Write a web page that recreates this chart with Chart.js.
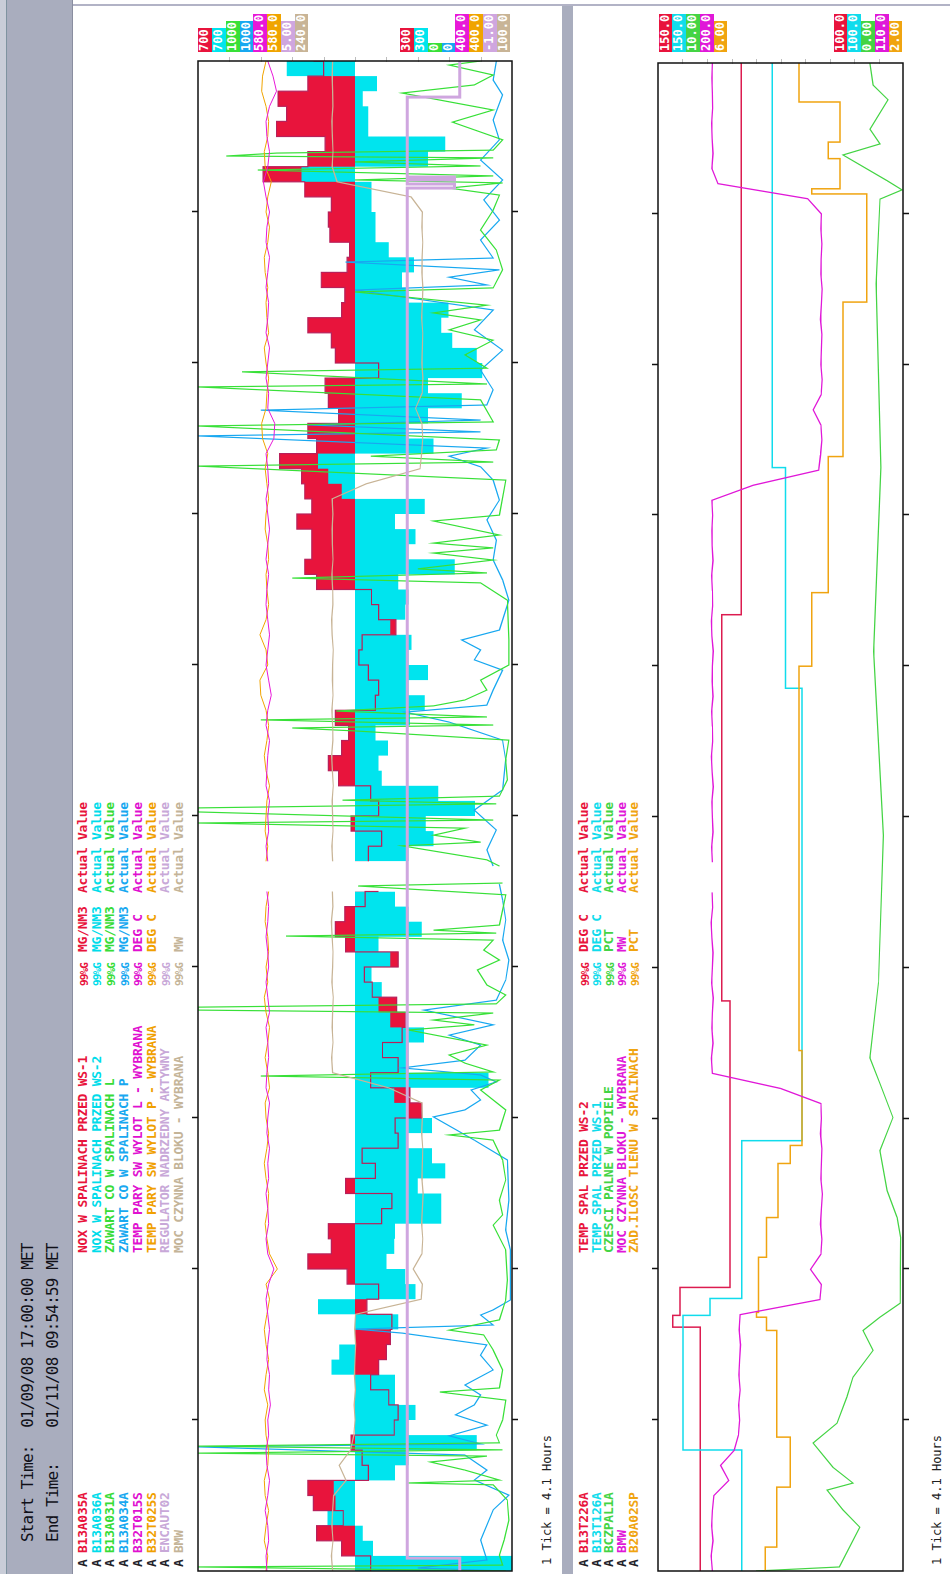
<!DOCTYPE html>
<html>
<head>
<meta charset="utf-8">
<script src="https://cdn.jsdelivr.net/npm/chart.js@4.4.1/dist/chart.umd.min.js"></script>
<style>
  html, body { margin: 0; padding: 0; background: #fff; width: 950px; height: 1574px; overflow: hidden; }
  #page {
    position: absolute; left: 0; top: 0; width: 1574px; height: 950px;
    transform-origin: 0 0; transform: translate(0px, 1574px) rotate(-90deg);
    background: #fff; font-family: 'DejaVu Sans Mono', monospace;
  }
  .blk { position: absolute; }
  .hdrText { position: absolute; font-size: 16px; line-height: 16px; letter-spacing: -0.85px; color: #101018; white-space: pre; }
  .leg { position: absolute; font-size: 13px; line-height: 13px; font-weight: bold; letter-spacing: -0.25px; white-space: pre; }
  .leg.narrow { font-size: 11px; letter-spacing: -0.9px; }
  .lim { position: absolute; height: 13.75px; font-size: 12px; line-height: 13.75px; font-weight: bold; color: #fff; padding: 0 1px; white-space: pre; }
  .tick { position: absolute; font-size: 12px; line-height: 12px; color: #202020; white-space: pre; }
  canvas { position: absolute; left: 0; display: block; }
</style>
</head>
<body>
<div id="page">
  <div class="blk" style="left:0;top:0;width:1574px;height:73px;background:#a9adbe"></div>
  <div class="blk" style="left:0;top:0;width:1574px;height:6px;background:#c9cdd8"></div>
  <div class="blk" style="left:0;top:6px;width:1574px;height:1px;background:#7f93a0"></div>
  <div class="blk" style="left:0;top:72px;width:1574px;height:1px;background:#8a8ea0"></div>
  <div class="blk" style="left:1568px;top:73px;width:2px;height:877px;background:#b2b3c6"></div>
  <div class="blk" style="left:0;top:562px;width:1568px;height:11px;background:#a9adbe"></div>
  <div id="startTime" class="hdrText" style="left:32px;top:19.5px"></div>
  <div id="endTime" class="hdrText" style="left:32px;top:44.5px"></div>
  <div id="topLegend"></div>
  <div id="botLegend"></div>
  <div id="topLimits"></div>
  <div id="botLimits"></div>
  <div class="tick" id="topTickNote" style="left:9px;top:541px"></div>
  <div class="tick" id="botTickNote" style="left:9px;top:931px"></div>
  <canvas id="topChart" width="1574" height="335" style="top:190px"></canvas>
  <canvas id="botChart" width="1574" height="265" style="top:650px"></canvas>
</div>
<script>
// ---- time window ----
const SPAN_HOURS = 41;
const TICK_HOURS = 4.1;
const START_TIME = '01/09/08 17:00:00 MET';
const END_TIME = '01/11/08 09:54:59 MET';

// ---- upper trend: pens ----
const topTags  = ['B13A035A', 'B13A036A', 'B13A031A', 'B13A034A', 'B32T015S', 'B32T025S', 'ENCAUT02', 'BMW'];
const topDescs = ['NOX W SPALINACH PRZED WS-1', 'NOX W SPALINACH PRZED WS-2', 'ZAWART CO W SPALINACH L', 'ZAWART CO W SPALINACH P',
                  'TEMP PARY SW WYLOT L - WYBRANA', 'TEMP PARY SW WYLOT P - WYBRANA', 'REGULATOR NADRZEDNY AKTYWNY', 'MOC CZYNNA BLOKU - WYBRANA'];
const topUnits = ['MG/NM3', 'MG/NM3', 'MG/NM3', 'MG/NM3', 'DEG C', 'DEG C', '', 'MW'];
const topMax = [700, 700, 1000, 1000, 580, 580, 5, 240];
const topMin = [300, 300, 0, 0, 400, 400, -1, 100];
const topMaxText = ['700', '700', '1000', '1000', '580.0', '580.0', '5.00', '240.0'];
const topMinText = ['300', '300', '0', '0', '400.0', '400.0', '-1.00', '100.0'];

// ---- lower trend: pens ----
const botTags  = ['B13T226A', 'B13T126A', 'BCZPAL1A', 'BMW', 'B20A02SP'];
const botDescs = ['TEMP SPAL PRZED WS-2', 'TEMP SPAL PRZED WS-1', 'CZESCI PALNE W POPIELE', 'MOC CZYNNA BLOKU - WYBRANA', 'ZAD.ILOSC TLENU W SPALINACH'];
const botUnits = ['DEG C', 'DEG C', 'PCT', 'MW', 'PCT'];
const botMax = [150, 150, 10, 200, 6];
const botMin = [100, 100, 0, 110, 2];
const botMaxText = ['150.0', '150.0', '10.00', '200.0', '6.00'];
const botMinText = ['100.0', '100.0', '0.00', '110.0', '2.00'];

// ---- samples every 0.41 h (101 points over the window), null = no data ----
const noxWs1 = [
  480,517,549,515,553,560,483,491,505,450,
  445,457,480,470,460,455,453,485,470,510,
  560,530,534,466,453,512,474,491,445,449,
  415,430,480,445,465,440,436,447,478,488,
  445,512,525,513,487,470,null,483,466,505,
  470,480,521,534,517,508,525,474,470,483,
  495,491,448,470,479,549,564,555,555,574,
  555,564,568,596,549,560,521,534,538,470,
  525,530,560,517,513,543,510,507,532,534,
  530,564,617,560,538,600,587,598,560,540,
  553];
const noxWs2 = [
  300,477,490,535,525,527,449,432,345,432,
  423,449,449,530,520,500,445,547,423,436,
  460,450,449,390,390,420,385,402,434,402,
  435,450,330,432,432,412,455,470,466,479,
  455,470,415,432,449,434,null,432,400,410,
  347,394,466,470,458,474,430,411,432,407,
  432,428,455,436,432,445,373,432,423,449,
  411,517,534,547,400,432,407,364,407,338,
  345,376,390,381,432,440,425,457,474,474,
  479,479,568,407,385,483,483,490,472,587,
  540];
const tempSteamL = [
  540.5,541,539.5,540,541.5,540,539,540.5,541,539.5,
  540,538.5,539.5,539,540.5,540,539,540,541,539.5,
  536.5,540,541,539.5,540,541,539.5,540,539,540.5,
  540,539,541,540.5,539.5,540,541,539,540,541,
  539.5,540,541,540,539.5,540.5,null,540,541,539.5,
  540,539,541,540.5,540,539,541,540,538,539.5,
  541,540,539,540,541,540.5,539.5,541,540,539,
  540,541,539.5,540,541,536.5,536,540,539.5,541,
  540,539,541,540,539.5,541,540,539,541,540.5,
  539,541,542.5,540,539,540.5,541,539,535,537,
  540];
const tempSteamP = [
  541,540,542,541,539.5,541.5,542,540,539.5,541,
  541.5,540,542,541,539.5,541,542,540.5,539,541,
  534.5,539,540.5,541.5,540,539.5,541,542,540.5,539.5,
  541,541.5,539,540,541.5,540,539,541,542,540,
  541,539.5,540,541.5,541,539.5,null,541,540,541.5,
  541,540.5,539,541,542,540.5,539.5,541,544,544.5,
  540,541,544.5,541,539.5,540.5,541,539.5,540,541.5,
  541,539.5,540.5,541.5,540,543,543.5,541,540.5,539.5,
  541,542,539.5,540.5,541,540,541.5,542,540,539,
  541,540,538,541.5,542,540,539.5,541,543.5,543,
  541];
const unitPowerMW = [
  180,180.5,179.8,180.3,180,179.5,174,177,172,170.5,
  170,170.4,169.8,170.3,170,169.7,170.2,169.8,140.5,140,
  144,140.2,139.8,140.3,140,139.6,140.2,140,139.8,140.3,
  140,140.2,155,180,180.4,179.8,180.2,180,179.7,180.3,
  180,179.8,180.2,180.5,179.9,180.1,null,180,180.3,179.8,
  180,180.2,179.7,180.1,180.4,179.9,180,180.3,179.8,180.1,
  180,179.7,180.2,180.4,179.9,180,180.3,179.8,180.1,180.2,
  179.9,180.2,165,141,140.3,139.8,140.2,143,140.1,139.7,
  140.2,140,139.8,140.3,140,139.7,140.2,140.1,139.8,140.2,
  140,145,178,180.2,179.8,180.1,180.3,179.9,180,180.2,
  180];

// ---- exception-recorded pens: [hours from start, value] ----
const coLeft = [[0,20],[0.11,1000],[0.16,30],[0.43,40],[0.84,25],[1.38,10],[1.93,15],[2.34,60],[2.39,330],[2.47,40],[2.74,150],[2.96,260],[3.12,80],[3.20,1000],[3.29,30],[3.39,1000],[3.48,40],[3.69,50],[4.10,30],[4.64,20],[4.86,230],[4.97,40],[5.46,30],[6.00,60],[6.41,90],[6.54,200],[6.82,40],[7.36,20],[7.90,15],[8.72,20],[9.39,60],[9.67,30],[10.07,40],[10.62,20],[11.16,30],[11.70,60],[11.84,200],[11.97,40],[12.52,20],[13.06,100],[13.33,40],[13.44,800],[13.55,60],[13.79,150],[14.01,200],[14.28,80],[14.69,330],[14.83,120],[14.96,250],[15.15,60],[15.23,1000],[15.31,1000],[15.40,50],[15.64,20],[15.91,80],[16.32,110],[16.59,40],[16.86,90],[17.13,60],[17.24,720],[17.32,50],[17.40,250],[17.54,40],[17.95,30],[18.36,20],[18.60,490],[18.68,30],[18.90,null],[19.14,40],[19.31,80],[19.69,350],[19.79,100],[19.98,250],[20.17,150],[20.31,1000],[20.39,60],[20.61,1000],[20.72,1000],[20.83,50],[20.93,540],[21.04,40],[21.48,15],[22.02,20],[22.56,10],[22.81,500],[22.89,700],[22.97,60],[23.11,800],[23.19,80],[23.35,560],[23.49,250],[23.65,150],[23.92,80],[24.19,100],[24.60,10],[25.28,10],[26.36,15],[26.83,100],[26.96,700],[27.10,80],[27.21,300],[27.45,60],[27.64,250],[27.78,60],[27.91,250],[28.13,40],[28.51,250],[28.67,40],[29.62,20],[30.00,1000],[30.11,60],[30.27,450],[30.44,50],[30.71,40],[31.09,1000],[31.20,60],[31.80,100],[32.15,1000],[32.23,80],[32.56,860],[32.66,80],[33.02,150],[33.42,60],[33.70,200],[33.97,100],[34.16,250],[34.37,80],[34.73,500],[34.84,60],[35.33,30],[35.87,50],[36.41,100],[36.95,60],[37.36,40],[37.55,200],[37.69,30],[37.77,500],[37.88,60],[38.04,810],[38.15,100],[38.26,500],[38.37,60],[38.42,910],[38.50,750],[38.58,60],[38.86,30],[39.34,190],[39.67,60],[40.13,350],[40.35,120],[40.62,60],[40.89,200],[41.00,100]];
const coRight = [[0,20],[0.08,300],[0.30,80],[0.84,100],[1.66,60],[2.06,10],[2.47,120],[2.74,80],[3.15,150],[3.37,1000],[3.45,100],[3.67,200],[3.96,80],[4.24,180],[4.51,120],[4.78,100],[5.05,150],[5.46,60],[5.86,100],[6.14,80],[6.46,350],[6.57,500],[6.68,60],[6.95,100],[7.09,60],[7.36,5],[8.72,5],[9.26,20],[10.07,10],[11.16,15],[11.70,120],[12.33,250],[12.52,150],[12.79,100],[13.06,130],[13.28,50],[13.47,100],[13.66,350],[13.87,150],[14.28,100],[14.55,200],[14.83,60],[15.23,280],[15.50,50],[16.05,20],[16.59,10],[17.13,30],[17.68,20],[18.22,30],[18.65,40],[18.90,null],[19.14,60],[19.58,80],[20.12,50],[20.66,120],[21.21,30],[22.02,20],[22.56,30],[23.05,200],[23.32,340],[23.51,80],[23.92,60],[24.46,30],[24.74,120],[25.01,100],[25.28,160],[25.55,40],[26.36,10],[26.91,30],[27.45,60],[27.99,50],[28.54,80],[29.08,40],[29.62,60],[29.98,100],[30.27,200],[30.49,80],[30.82,1000],[30.93,100],[31.12,650],[31.25,100],[31.52,800],[31.66,80],[32.07,60],[32.61,100],[33.15,30],[33.70,120],[34.24,60],[34.78,500],[34.92,80],[35.13,200],[35.33,40],[35.54,530],[35.65,60],[36.14,100],[36.68,40],[37.23,90],[37.77,30],[38.31,100],[38.86,40],[39.40,60],[40.08,30],[40.48,60],[41.00,50]];
const masterCtrl = [[0,0],[0.35,1],[37.55,0.1],[37.66,1],[37.77,0.1],[37.85,1],[40.02,0],[41,0]];

// lower trend, held values start at the given hour
const fgTempWs2 = [[0,141.4],[6.63,147],[6.95,145.5],[7.71,135.3],[15.5,137],[26,133],[41,133]];
const fgTempWs1 = [[0,132.9],[3.29,144.9],[6.95,139.4],[7.41,132.9],[11.70,120.6],[24,124],[30,126.7],[41,126.7]];
const unburnt = [[0,6.0],[0.11,2.6],[1.19,1.76],[1.66,2.45],[2.20,3.1],[2.39,2.04],[2.82,2.86],[3.48,3.67],[4.02,2.69],[4.73,2.29],[5.27,2.04],[6.00,1.22],[6.54,1.63],[6.90,0.94],[7.28,0.12],[9.07,0.1],[9.61,0.24],[10.34,0.65],[11.43,0.94],[12.33,0.41],[13.25,0.94],[13.95,1.35],[16,1.0],[20,0.8],[25,1.2],[30,0.9],[35,1.1],[37.3,0.94],[37.55,0.04],[37.8,0.65],[38.5,2.45],[38.8,0.94],[39.2,1.35],[40.0,0.61],[40.4,1.22],[41,1.35]];
const o2Setpoint = [[0,4.25],[0.65,4.06],[2.28,3.84],[3.64,4.06],[6.54,4.23],[6.90,4.39],[7.03,4.36],[8.53,4.23],[9.61,4.04],[11.08,3.84],[11.57,3.65],[14.15,3.7],[24.6,3.49],[26.6,3.22],[30.3,2.98],[34.5,2.59],[37.44,3.49],[37.58,3.03],[38.4,3.22],[38.85,3.03],[39.94,3.7],[41,3.7]];

// ---- pen colours ----
const topColors = ['#e8143c', '#00e4ee', '#38e038', '#18a8f0', '#e818d8', '#f0a400', '#cfa6df', '#c8b496'];
const topTextColors = ['#e8143c', '#00dcea', '#38dc38', '#18a8f0', '#e010d0', '#f0a000', '#c8a8d8', '#c4b498'];
const botColors = ['#dc1c50', '#10dcec', '#44d444', '#e018d8', '#f0a410'];
const botTextColors = ['#e8143c', '#10dcec', '#44d444', '#e018d8', '#f0a410'];

// ---------------------------------------------------------------------------
function uniform(values) {
  const step = SPAN_HOURS / (values.length - 1);
  return values.map((v, i) => ({ x: i * step, y: v }));
}
function timed(pairs) {
  return pairs.map(([t, v]) => ({ x: t, y: v }));
}

function buildLegend(el, tags, descs, units, colors, firstBaseline, rowStep) {
  const cols = [[7, i => 'A'], [21, i => tags[i]], [321, i => descs[i]], [588, i => '99%G'], [622, i => units[i]], [681, i => 'Actual Value']];
  tags.forEach((_, i) => {
    const top = firstBaseline + i * rowStep - 11;
    cols.forEach(([left, fn], c) => {
      const d = document.createElement('div');
      d.className = c === 3 ? 'leg narrow' : 'leg';
      d.style.left = left + 'px';
      d.style.top = (c === 3 ? top + 1.5 : top) + 'px';
      d.style.color = c === 0 ? '#202028' : colors[i];
      d.textContent = fn(i);
      el.appendChild(d);
    });
  });
}

function buildLimits(el, texts, colors, firstTop) {
  texts.forEach((t, i) => {
    const d = document.createElement('div');
    d.className = 'lim';
    d.style.left = '1522px';
    d.style.top = (firstTop + i * 13.75) + 'px';
    d.style.background = colors[i];
    d.textContent = t;
    el.appendChild(d);
  });
}

const framePlugin = {
  id: 'frame',
  afterDraw(chart) {
    const { ctx, chartArea: a } = chart;
    const xs = chart.scales.x;
    const ys = chart.scales.p0;
    ctx.save();
    // value divisions along the right edge
    ctx.strokeStyle = '#bdbdbd';
    ctx.lineWidth = 1;
    for (let k = 1; k < 10; k++) {
      const v = ys.min + (ys.max - ys.min) * k / 10;
      const py = Math.round(ys.getPixelForValue(v)) + 0.5;
      ctx.beginPath();
      ctx.moveTo(a.right - 1, py);
      ctx.lineTo(a.right + 4, py);
      ctx.stroke();
    }
    // plot frame
    ctx.strokeStyle = '#111';
    ctx.lineWidth = 1.5;
    ctx.strokeRect(a.left, a.top, a.right - a.left, a.bottom - a.top);
    // time ticks, outward on both long edges
    for (let k = 1; k * TICK_HOURS < SPAN_HOURS - 0.01; k++) {
      const px = Math.round(xs.getPixelForValue(k * TICK_HOURS)) + 0.5;
      ctx.beginPath();
      ctx.moveTo(px, a.top - 6); ctx.lineTo(px, a.top);
      ctx.moveTo(px, a.bottom); ctx.lineTo(px, a.bottom + 6);
      ctx.stroke();
    }
    ctx.restore();
  }
};

function makeScales(mins, maxs) {
  const s = { x: { type: 'linear', min: 0, max: SPAN_HOURS, display: false } };
  mins.forEach((mn, i) => { s['p' + i] = { type: 'linear', min: mn, max: maxs[i], display: false }; });
  return s;
}

function line(data, axis, color, width, extra) {
  return Object.assign({ data, yAxisID: axis, borderColor: color, borderWidth: width, pointRadius: 0,
                         fill: false, tension: 0, spanGaps: false }, extra || {});
}

function makeChart(id, datasets, scales, padding) {
  return new Chart(document.getElementById(id), {
    type: 'line',
    data: { datasets },
    options: {
      responsive: false, animation: false, devicePixelRatio: 1, events: [],
      layout: { padding },
      plugins: { legend: { display: false }, tooltip: { enabled: false }, filler: { drawTime: 'beforeDatasetsDraw' } },
      scales
    },
    plugins: [framePlugin]
  });
}

// header, notes, legends, scale limits
document.getElementById('startTime').textContent = 'Start Time:  ' + START_TIME;
document.getElementById('endTime').textContent = 'End Time:    ' + END_TIME;
document.getElementById('topTickNote').textContent = '1 Tick = ' + TICK_HOURS + ' Hours';
document.getElementById('botTickNote').textContent = '1 Tick = ' + TICK_HOURS + ' Hours';
buildLegend(document.getElementById('topLegend'), topTags, topDescs, topUnits, topTextColors, 87, 13.7);
buildLegend(document.getElementById('botLegend'), botTags, botDescs, botUnits, botTextColors, 588, 12.6);
buildLimits(document.getElementById('topLimits'), topMaxText, topColors, 198.3);
buildLimits(document.getElementById('topLimits'), topMinText, topColors, 400.3);
buildLimits(document.getElementById('botLimits'), botMaxText, botTextColors, 658.5);
buildLimits(document.getElementById('botLimits'), botMinText, botTextColors, 833.5);

// upper trend (first dataset is drawn on top; fills are painted before all lines)
makeChart('topChart', [
  line(uniform(tempSteamL), 'p4', topColors[4], 1),
  line(uniform(tempSteamP), 'p5', topColors[5], 1),
  line(timed(masterCtrl), 'p6', topColors[6], 3, { stepped: true }),
  line(uniform(unitPowerMW), 'p7', topColors[7], 1.2),
  line(timed(coLeft), 'p2', topColors[2], 1.2),
  line(timed(coRight), 'p3', topColors[3], 1.2),
  line(uniform(noxWs2), 'p1', topColors[1], 0, { stepped: true, fill: { value: 500 }, backgroundColor: topColors[1] }),
  line(uniform(noxWs1), 'p0', '#b8205a', 1.2, { stepped: true, fill: { value: 500 }, backgroundColor: topColors[0] })
], makeScales(topMin, topMax), { left: 3, right: 61, top: 8, bottom: 13 });

// lower trend
makeChart('botChart', [
  line(uniform(unitPowerMW), 'p3', botColors[3], 1.3),
  line(timed(o2Setpoint), 'p4', botColors[4], 1.5, { stepped: true }),
  line(timed(unburnt), 'p2', botColors[2], 1.2),
  line(timed(fgTempWs1), 'p1', botColors[1], 1.5, { stepped: true }),
  line(timed(fgTempWs2), 'p0', botColors[0], 1.5, { stepped: true })
], makeScales(botMin, botMax), { left: 3, right: 63, top: 8, bottom: 12 });
</script>
</body>
</html>
